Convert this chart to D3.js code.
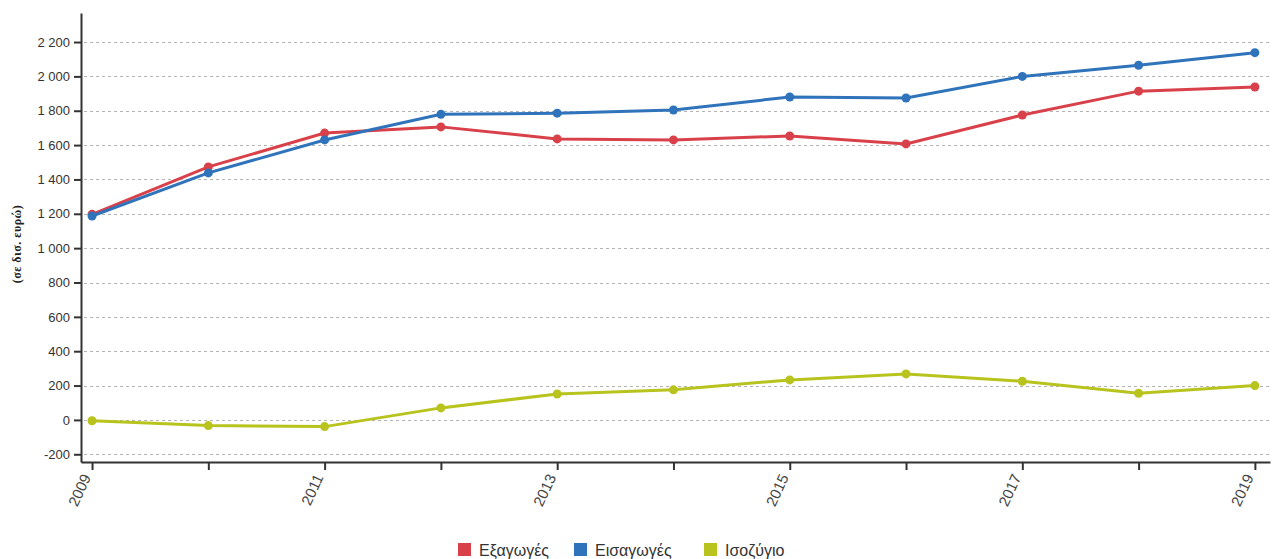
<!DOCTYPE html>
<html>
<head>
<meta charset="utf-8">
<script src="https://cdn.jsdelivr.net/npm/d3@7"></script>
<style>
  html, body { margin: 0; padding: 0; background: #fff; }
  svg { display: block; font-family: "Liberation Sans", Arial, sans-serif; }
  .axis text { fill: #333; font-size: 13px; }
  .axis path, .axis line { stroke: #333; }
</style>
</head>
<body>
<svg id="chart" width="1272" height="559"></svg>
<script>
// Years on the horizontal axis
const years = [2009, 2010, 2011, 2012, 2013, 2014, 2015, 2016, 2017, 2018, 2019];

// Values in billion euro
const exportsVals = [1197, 1473, 1670, 1706, 1636, 1630, 1653, 1607, 1775, 1914, 1938];
const importsVals = [1187, 1438, 1630, 1779, 1786, 1804, 1880, 1874, 2000, 2065, 2138];
const balanceVals = [-5, -33, -39, 70, 151, 175, 233, 268, 225, 155, 200];

const seriesNames = ["Εξαγωγές", "Εισαγωγές", "Ισοζύγιο"];
const seriesColors = ["#d9414a", "#2f73bb", "#b8c31e"];

const yTicks = [-200, 0, 200, 400, 600, 800, 1000, 1200, 1400, 1600, 1800, 2000, 2200];
const yTitle = "(σε δισ. ευρώ)";

const svg = d3.select("#chart");

const x = d3.scaleLinear().domain([2008.905, 2019.13]).range([81, 1270]);
const y = d3.scaleLinear().domain([-245, 2369]).range([462, 13]);

// Thousands separated by a space, plain hyphen for negatives
const fmtY = d => (d < 0 ? "-" : "") + d3.format(",")(Math.abs(d)).replace(/,/g, " ");

// Horizontal grid lines
svg.append("g")
  .selectAll("line")
  .data(yTicks)
  .join("line")
  .attr("x1", 84).attr("x2", 1270)
  .attr("y1", d => Math.round(y(d)) + 0.5).attr("y2", d => Math.round(y(d)) + 0.5)
  .attr("stroke", "#b4b4b4")
  .attr("stroke-width", 1)
  .attr("stroke-dasharray", "3,3");

// Y axis
const yAxis = svg.append("g")
  .attr("class", "axis")
  .attr("transform", "translate(81,0)")
  .call(d3.axisLeft(y).tickValues(yTicks).tickSize(7).tickSizeOuter(0).tickFormat(fmtY));
yAxis.select(".domain").attr("stroke-width", 2);
yAxis.selectAll(".tick line").attr("stroke-width", 2);
yAxis.selectAll("text").attr("x", -11);

// X axis
const xAxis = svg.append("g")
  .attr("class", "axis")
  .attr("transform", "translate(0,462)")
  .call(d3.axisBottom(x).tickValues(years).tickSize(8).tickSizeOuter(0)
    .tickFormat(d => (d - 2009) % 2 === 0 ? String(d) : ""));
xAxis.select(".domain").attr("stroke-width", 2);
xAxis.selectAll(".tick line").attr("stroke-width", 2);
xAxis.selectAll("text")
  .attr("text-anchor", "end")
  .attr("x", 0).attr("y", 0).attr("dy", "0.35em")
  .attr("transform", "translate(-6,13) rotate(-65)")
  .style("font-size", "15px")
  .style("fill", "#444");

// Y axis title
svg.append("text")
  .attr("transform", "translate(21,244) rotate(-90)")
  .attr("text-anchor", "middle")
  .style("font-size", "12px")
  .style("font-weight", "bold")
  .style("letter-spacing", "0.5px")
  .style("fill", "#222")
  .style("font-family", "'Liberation Serif', serif")
  .text(yTitle);

// Series lines and markers
const allSeries = [exportsVals, importsVals, balanceVals];
const line = d3.line().x((d, i) => x(years[i])).y(d => y(d));

allSeries.forEach((vals, k) => {
  const g = svg.append("g");
  g.append("path")
    .datum(vals)
    .attr("d", line)
    .attr("fill", "none")
    .attr("stroke", seriesColors[k])
    .attr("stroke-width", 3);
  g.selectAll("circle")
    .data(vals)
    .join("circle")
    .attr("cx", (d, i) => x(years[i]))
    .attr("cy", d => y(d))
    .attr("r", 4.5)
    .attr("fill", seriesColors[k]);
});

// Legend
const legendX = [458, 574, 704];
const legend = svg.append("g");
seriesNames.forEach((name, k) => {
  legend.append("rect")
    .attr("x", legendX[k]).attr("y", 543)
    .attr("width", 13).attr("height", 13)
    .attr("fill", seriesColors[k]);
  legend.append("text")
    .attr("x", legendX[k] + 21).attr("y", 556)
    .style("font-size", "16px")
    .style("fill", "#333")
    .text(name);
});
</script>
</body>
</html>
